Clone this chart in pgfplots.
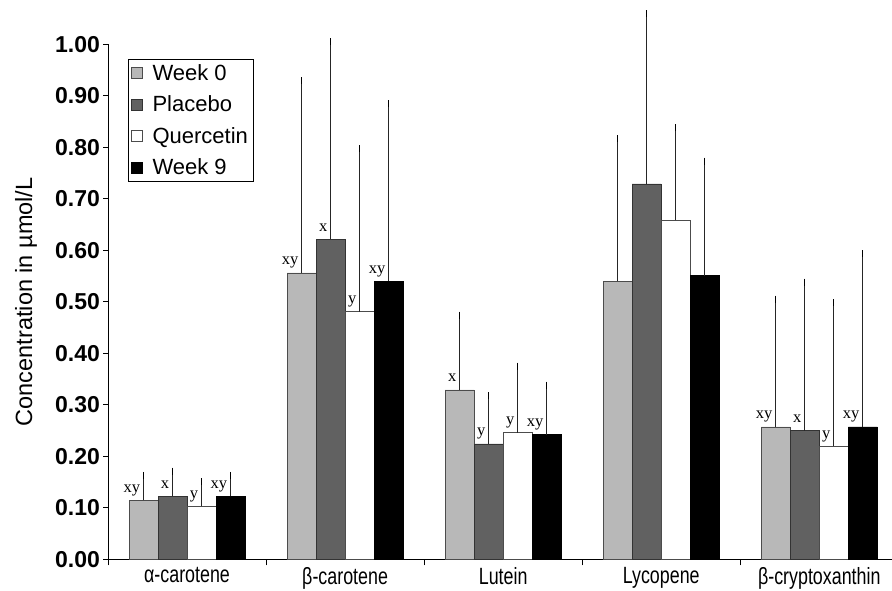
\documentclass[border=0pt]{standalone}
\usepackage{pgfplots}
\pgfplotsset{compat=1.18}
\usepackage{pgfplotstable}
\usepackage{fontspec}
\setmainfont{Liberation Sans}
\newfontfamily\narrowfont[FakeStretch=0.76]{Liberation Sans}
\newfontfamily\seriffont{Liberation Serif}

\pgfplotstableread{
x y e lab
0 0.115 0.048 xy
1 0.556 0.373 xy
2 0.329 0.145 x
3 0.540 0.277 {}
4 0.257 0.248 xy
}\weekzero
\pgfplotstableread{
x y e lab
0 0.122 0.049 x
1 0.621 0.384 x
2 0.224 0.094 y
3 0.729 0.330 {}
4 0.250 0.288 x
}\placebo
\pgfplotstableread{
x y e lab
0 0.103 0.048 y
1 0.481 0.316 y
2 0.246 0.129 y
3 0.658 0.180 {}
4 0.220 0.278 y
}\quercetin
\pgfplotstableread{
x y e lab
0 0.122 0.041 xy
1 0.540 0.345 xy
2 0.242 0.096 xy
3 0.551 0.222 {}
4 0.257 0.336 xy
}\weeknine

\begin{document}
\begin{tikzpicture}
\begin{axis}[
  at={(108pt,30.7pt)}, anchor=south west,
  scale only axis, width=784pt, height=515pt,
  xmin=-0.5, xmax=4.46, ymin=0, ymax=1,
  axis lines*=left,
  axis line style={line width=0.8pt, -},
  tick align=outside,
  tick style={line width=0.8pt, black},
  major tick length=4.5pt,
  minor tick length=6pt,
  xtick={0,1,2,3,4},
  xticklabels={α-carotene, β-carotene, Lutein, Lycopene, β-cryptoxanthin},
  major x tick style={draw=none},
  minor xtick={-0.5,0.5,1.5,2.5,3.5},
  ytick={0,0.1,0.2,0.3,0.4,0.5,0.6,0.7,0.8,0.9,1.0},
  yticklabel={\pgfmathprintnumber[fixed,fixed zerofill,precision=2,assume math mode=true]{\tick}},
  yticklabel style={font=\bfseries\fontsize{23}{26}\selectfont},
  xticklabel style={font=\narrowfont\fontsize{23.5}{27}\selectfont},
  ylabel={Concentration in µmol/L},
  every axis y label/.style={at={(axis description cs:-0.0969,0.5)}, rotate=90, anchor=base, font=\fontsize{23.5}{27}\selectfont},
  ybar=0pt, bar width=29pt,
  clip=false,
  error bars/y dir=plus, error bars/y explicit,
  error bars/error bar style={line width=0.75pt, black!85},
  error bars/error mark options={line width=1pt, mark size=3.5pt, black},
  nodes near coords,
  point meta=explicit symbolic,
  every node near coord/.append style={font=\seriffont\fontsize{16.5}{18}\selectfont, anchor=base east, inner sep=0pt, xshift=-3pt, yshift=8pt, black},
  legend style={at={(axis description cs:0.0255,0.9715)}, anchor=north west, draw=black, line width=0.6pt, font=\fontsize{22}{26}\selectfont, row sep=10pt, inner xsep=3pt, inner ysep=3pt},
  legend cell align=left,
  legend image code/.code={\draw[#1, line width=0.5pt] (0pt,-5.5pt) rectangle (11pt,5.5pt); \path[draw=none, fill=none] (0pt,0pt) -- (19pt,0pt);},
]
\addplot[fill=black!28, draw=black!70, line width=0.6pt] table[x=x, y=y, y error=e, meta=lab] {\weekzero};
\addplot[fill=black!62, draw=black!80, line width=0.6pt] table[x=x, y=y, y error=e, meta=lab] {\placebo};
\addplot[fill=white, draw=black!70, line width=0.6pt] table[x=x, y=y, y error=e, meta=lab] {\quercetin};
\addplot[fill=black, draw=black, line width=0.6pt] table[x=x, y=y, y error=e, meta=lab] {\weeknine};
\legend{Week 0, Placebo, Quercetin, Week 9}
\end{axis}
\pgfresetboundingbox
\path (0,0) rectangle (892pt,590pt);
\end{tikzpicture}
\end{document}
